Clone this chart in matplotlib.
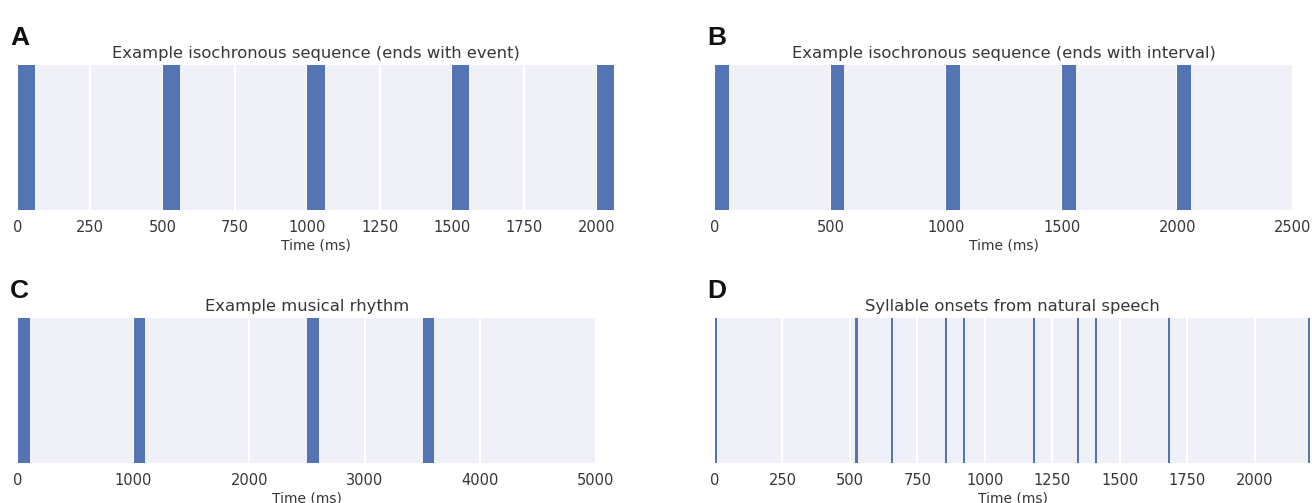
import matplotlib
matplotlib.use("Agg")
import matplotlib.pyplot as plt
import seaborn as sns

sns.set_style("darkgrid")
plt.rcParams['font.family'] = ['DejaVu Sans']

# ---- data ----
onsets_a = [0, 500, 1000, 1500, 2000]
onsets_b = [0, 500, 1000, 1500, 2000]
onsets_c = [0, 1000, 2500, 3500]
onsets_d = [0, 520, 653, 851, 917, 1178, 1340, 1408, 1678, 2196]

ticks_a = [0, 250, 500, 750, 1000, 1250, 1500, 1750, 2000]
ticks_b = [0, 500, 1000, 1500, 2000, 2500]
ticks_c = [0, 1000, 2000, 3000, 4000, 5000]
ticks_d = [0, 250, 500, 750, 1000, 1250, 1500, 1750, 2000]

titles = ["Example isochronous sequence (ends with event)",
          "Example isochronous sequence (ends with interval)",
          "Example musical rhythm",
          "Syllable onsets from natural speech"]
letters = ["A", "B", "C", "D"]

W, H = 1312, 503
fig = plt.figure(figsize=(W / 100, H / 100), dpi=100)

bg = "#EFF0F8"
bar_color = "#5475B3"
txt = "#363636"

# axes boxes in pixels: left, right, top, bottom
boxes = [(18, 614, 65, 210), (715, 1293, 65, 210),
         (18, 596, 318, 463), (715, 1310, 318, 463)]

panels = [
    (onsets_a, 60, (0, 2060), ticks_a),
    (onsets_b, 60, (0, 2500), ticks_b),
    (onsets_c, 100, (0, 5000), ticks_c),
    (onsets_d, 8, (0, 2204), ticks_d),
]

for i, ((ons, width, xlim, ticks), (l, r, t, b)) in enumerate(zip(panels, boxes)):
    ax = fig.add_axes([l / W, 1 - b / H, (r - l) / W, (b - t) / H])
    ax.set_facecolor(bg)
    ax.bar(ons, [1] * len(ons), width=width, align="edge", color=bar_color,
           edgecolor="none", zorder=3)
    ax.set_xlim(*xlim)
    ax.set_ylim(0, 1)
    ax.set_yticks([])
    ax.set_xticks(ticks)
    ax.set_xticklabels([str(v) for v in ticks])
    ax.grid(True, axis="x", color="white", linewidth=1.5, zorder=0)
    ax.grid(False, axis="y")
    for s in ax.spines.values():
        s.set_visible(False)
    ax.tick_params(axis="x", length=0, pad=7, labelsize=10.5, labelcolor=txt)
    ax.set_xlabel("Time (ms)", fontsize=10, color=txt, labelpad=3)
    ax.set_title(titles[i], fontsize=11.8, color=txt, pad=5)
    fig.text((l - 8) / W, 1 - (t - 27) / H, letters[i], fontsize=19,
             fontweight="bold", family="Liberation Sans", color="#111111",
             ha="left", va="center")

fig.savefig("out.png", dpi=100, facecolor="white")
